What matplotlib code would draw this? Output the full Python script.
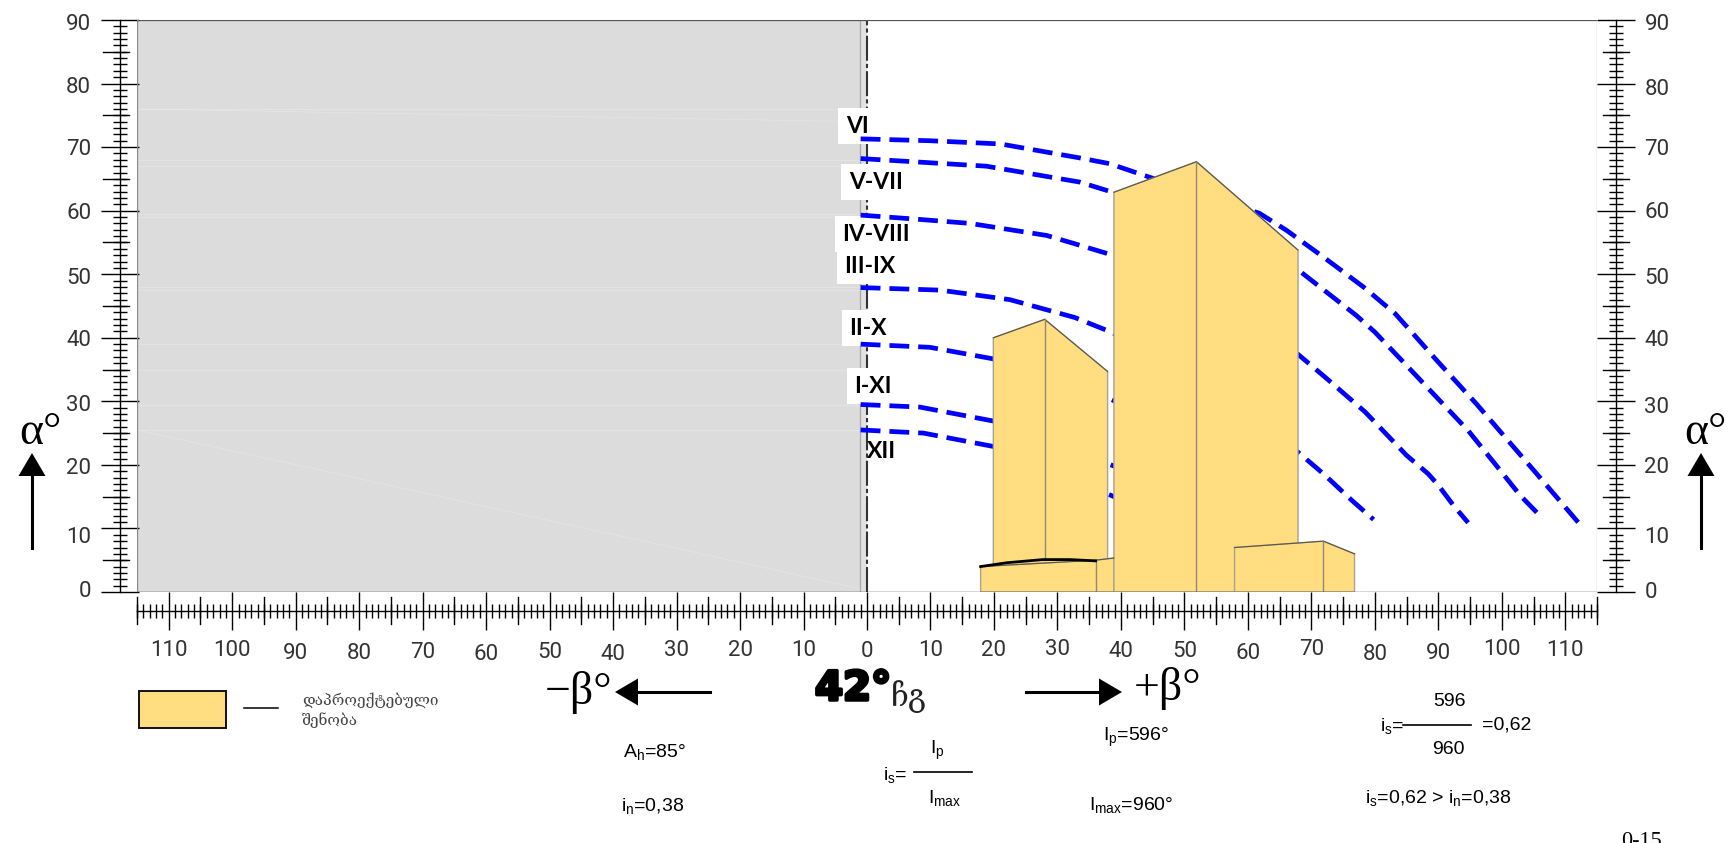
import numpy as np
import matplotlib
matplotlib.use("Agg")
import matplotlib.pyplot as plt
import matplotlib.patheffects as pe
from matplotlib.patches import Polygon, Rectangle
from matplotlib.transforms import ScaledTranslation

W, H = 1732, 843

# sun path curves, beta / alpha
c1_x = [-1, 10, 21, 33.5, 38.2, 45, 61.8, 66.1, 71.9, 78.2, 83.2, 85.8, 89.7, 96, 105.5, 112.6]
c1_y = [71.3, 71, 70.5, 68.3, 67.4, 65.1, 59.6, 56.9, 52.7, 48, 43.8, 40.9, 36.5, 29.6, 18.6, 10.3]
c2_x = [-1, 18.8, 33.5, 38.7, 67.9, 77.1, 80, 84, 89.2, 94.7, 98.9, 102.9, 106.5]
c2_y = [68.2, 67, 64.5, 62.9, 50.7, 43.5, 40.9, 36.7, 31.2, 25.4, 20.2, 15.2, 11.5]
c3_x = [-1, 7.3, 16.2, 28.3, 32.7, 38.7, 67.9, 72.4, 78.5, 85, 88.4, 90, 92.4, 94.7]
c3_y = [59.3, 58.7, 58, 56.1, 54.8, 53, 37.4, 33.6, 28.3, 21.5, 18.6, 16.8, 13.6, 10.9]
c4_x = [-1, 11.5, 22.5, 32.7, 38.7, 67.9, 71.9, 76.4, 79.8]
c4_y = [47.9, 47.5, 46, 43.2, 40.8, 22, 18.6, 14.4, 11.4]
c5_x = [-1, 9.9, 19.8, 38.45, 50]
c5_y = [39, 38.5, 36.7, 30.3, 25]
c6_x = [-1, 8.3, 19.9, 38.45, 50]
c6_y = [29.5, 29.1, 26.9, 20, 15]
c7_x = [-1, 8.9, 19.9, 38.45, 50]
c7_y = [25.5, 25, 22.9, 15.2, 10]
curves = [(c1_x, c1_y), (c2_x, c2_y), (c3_x, c3_y), (c4_x, c4_y),
          (c5_x, c5_y), (c6_x, c6_y), (c7_x, c7_y)]

# buildings
left_tower = [(19.9, 0), (19.9, 40), (28, 42.9), (37.9, 34.7), (37.9, 0)]
big_tower = [(38.9, 0), (38.9, 62.9), (51.9, 67.7), (67.9, 53.8), (67.9, 0)]
low_left = [(17.9, 0), (17.9, 4), (36, 5), (38.9, 5.35), (38.9, 0)]
low_right = [(57.9, 0), (57.9, 7), (71.9, 8), (76.8, 6), (76.8, 0)]
ridges = [(28, 5.1, 42.9), (51.9, 0, 67.7), (36, 0, 5), (71.9, 0, 8)]
roof_x = [17.9, 22, 27.7, 32, 36]
roof_y = [4, 4.6, 5.1, 5.1, 4.9]

# faint lines inside the shaded half
faint_y = [76, 68, 67, 59.5, 59, 48, 47.5, 39, 35, 29.5, 25.5]

month_labels = ["VI", "V-VII", "IV-VIII", "III-IX", "II-X", "I-XI", "XII"]
month_px = [(857, 126), (876, 182), (876, 234), (870, 266), (868, 328), (873, 386), (882, 451)]

x_major = list(range(-110, 111, 10))
x_labels = [str(abs(v)) for v in x_major]
y_major = list(range(0, 91, 10))

# hand lettered numbers sit a little off their ticks
x_label_dy = [0, 0, 3, 3, 2, 4, 2, 4, 0, 0, 0, 1, 0, 0, -1, 1, 1, 3, -1, 4, 3, -1, 0]
yl_label_dy = [-3, 7, 1, 2, 0, 2, 0, 0, 1, 2]
yr_label_dy = [-2, 7, 0, 4, 0, 2, -1, 0, 3, 2]

plt.rcParams["font.family"] = ["Liberation Sans", "DejaVu Sans"]
plt.rcParams["mathtext.default"] = "regular"

fig = plt.figure(figsize=(W / 100, H / 100), dpi=100)
ax = fig.add_axes([137 / W, 1 - 592 / H, (1597 - 137) / W, (592 - 20) / H])
ax.set_xlim(-115, 115)
ax.set_ylim(0, 90)


def fx(x):
    return x / W


def fy(y):
    return 1 - y / H


def ftext(x, y, s, **kw):
    kw.setdefault("ha", "center")
    kw.setdefault("va", "center")
    return fig.text(fx(x), fy(y), s, **kw)


def fline(x0, y0, x1, y1, lw=1.2, color="black"):
    fig.add_artist(plt.Line2D([fx(x0), fx(x1)], [fy(y0), fy(y1)], lw=lw, color=color))


def farrow(x0, y0, x1, y1, head_w, head_l, lw=2.2):
    # arrow given in reference pixels
    dx, dy = x1 - x0, y1 - y0
    n = np.hypot(dx, dy)
    ux, uy = dx / n, dy / n
    fline(x0, y0, x1 - ux * head_l, y1 - uy * head_l, lw=lw)
    bx, by = x1 - ux * head_l, y1 - uy * head_l
    pts = [(x1, y1), (bx - uy * head_w / 2, by + ux * head_w / 2),
           (bx + uy * head_w / 2, by - ux * head_w / 2)]
    fig.add_artist(Polygon([(fx(a), fy(b)) for a, b in pts], closed=True, fc="black", ec="none",
                           transform=fig.transFigure))


# shaded half
ax.axvspan(-115, -1.1, color="#dcdcdc", lw=0, zorder=0)
ax.axvspan(-1.1, 0, color="#e2e2e2", lw=0, zorder=0)
ax.axvline(-1.1, color="#a8a8a8", lw=0.9, zorder=1)
for v in faint_y:
    ax.axhline(v, xmin=0, xmax=0.495, color="white", lw=0.5, alpha=0.3, zorder=1)
ax.plot([-115, -1], [25.5, 0.5], color="white", lw=0.5, alpha=0.25, zorder=1)
ax.plot([-115, -1], [76, 74], color="white", lw=0.5, alpha=0.25, zorder=1)
ax.axvline(0, color="#333333", lw=1.5, ls=(0, (12, 1.5, 2, 1.5)), zorder=2)

# month labels
for s, (px, py) in zip(month_labels, month_px):
    box = None if s == "XII" else dict(fc="white", ec="none", pad=5.5)
    ax.text((px - 867) / 6.348, (591.7 - py) / 6.356, s, fontsize=16.5, fontweight="bold",
            family="Lato", ha="center", va="center", bbox=box, zorder=3)

for cx, cy in curves:
    ax.plot(cx, cy, color="#0000ff", lw=3.4, ls=(0, (4.2, 1.9)), zorder=4)

for poly in [left_tower, low_left, big_tower, low_right]:
    ax.add_patch(Polygon(poly, closed=True, fc="#ffdd80", ec="#a8a38c", lw=1.0, zorder=5))
    rx, ry = zip(*poly[1:-1])
    ax.plot(rx, ry, color="#5a5648", lw=0.8, zorder=6)
for rx, r0, r1 in ridges:
    ax.plot([rx, rx], [r0, r1], color="#8f8a70", lw=1.0, zorder=6)
ax.plot(roof_x, roof_y, color="black", lw=2.0, zorder=7)

# frame and rulers
ax.axhline(90, color="#555555", lw=0.9, zorder=8)
ax.axhline(0, color="#333333", lw=1.0, zorder=8)
ax.axvline(-115, color="#888888", lw=0.9, zorder=8)
ax.axvline(115, color="#aaaaaa", lw=0.9, zorder=8)

ax.spines["top"].set_visible(False)
ax.spines["bottom"].set_position(("outward", 13.7))
ax.spines["left"].set_position(("outward", 12.2))
ax.spines["right"].set_position(("outward", 13.4))
for s in ["bottom", "left", "right"]:
    ax.spines[s].set_linewidth(1.0)

ax.set_xticks(x_major)
ax.set_xticklabels(x_labels)
ax.set_yticks(y_major)
ax.set_xticks(np.arange(-115, 116), minor=True)
ax.set_yticks(np.arange(0, 91), minor=True)
ax.tick_params(which="major", direction="inout", length=27.5, width=1.0, right=True,
               labelright=True, labelsize=16, labelfontfamily="Roboto", labelcolor="#333333", pad=7)
ax.tick_params(which="minor", direction="inout", length=10, width=1.0, right=True)

for tick, dy in zip(ax.xaxis.get_major_ticks(), x_label_dy):
    tick.label1.set_transform(tick.label1.get_transform() + ScaledTranslation(0, -dy / 100, fig.dpi_scale_trans))
for tick, dl, dr in zip(ax.yaxis.get_major_ticks(), yl_label_dy, yr_label_dy):
    tick.label1.set_transform(tick.label1.get_transform() + ScaledTranslation(0, -dl / 100, fig.dpi_scale_trans))
    tick.label2.set_transform(tick.label2.get_transform() + ScaledTranslation(0, -dr / 100, fig.dpi_scale_trans))

# medium ruler ticks at the fives
for v in range(-115, 116, 10):
    ax.plot([v, v], [-0.8, -5.0], color="black", lw=1.0, clip_on=False, zorder=9)
for v in range(5, 90, 10):
    ax.plot([-120.4, -116.2], [v, v], color="black", lw=1.0, clip_on=False, zorder=9)
    ax.plot([115.9, 120.1], [v, v], color="black", lw=1.0, clip_on=False, zorder=9)

# axis arrows and symbols
farrow(32, 548, 32, 453, 27, 23)
farrow(1701, 548, 1701, 453, 27, 23)
ftext(40, 433, "α°", fontsize=33, family="Liberation Serif")
ftext(1705, 433, "α°", fontsize=33, family="Liberation Serif")
farrow(710, 692, 615, 692, 27, 23)
farrow(1026, 692, 1122, 692, 27, 23)
ftext(579, 693, "−β°", fontsize=33, family="Liberation Serif")
ftext(1168, 688, "+β°", fontsize=33, family="Liberation Serif")

t = ftext(853, 689, "42°", fontsize=29, fontweight="bold", family="DejaVu Sans")
t.set_path_effects([pe.withStroke(linewidth=2.5, foreground="black")])
ftext(909, 697, "ჩგ", fontsize=22, family="DejaVu Serif", color="#222222")

# legend
fig.add_artist(Rectangle((fx(139), fy(728)), 87 / W, 37 / H, fc="#ffdd80", ec="#111111", lw=1.4,
                         transform=fig.transFigure))
fline(244, 708, 278, 708, lw=1.1)
ftext(302, 700, "დაპროექტებული", fontsize=11, ha="left", family="DejaVu Serif", color="#444444")
ftext(302, 720, "შენობა", fontsize=11, ha="left", family="DejaVu Serif", color="#444444")

# formulas
fs = 14
ftext(654, 752, "A$_{h}$=85°", fontsize=fs)
ftext(653, 806, "i$_{n}$=0,38", fontsize=fs)
ftext(895, 775, "i$_{s}$=", fontsize=fs)
fline(914, 772, 972, 772)
ftext(937, 750, "I$_{p}$", fontsize=fs)
ftext(945, 798, "I$_{max}$", fontsize=fs)
ftext(1136, 737, "I$_{p}$=596°", fontsize=fs)
ftext(1131, 805, "I$_{max}$=960°", fontsize=fs)
ftext(1392, 726, "i$_{s}$=", fontsize=fs)
fline(1403, 725, 1471, 725)
ftext(1449, 702, "596", fontsize=fs)
ftext(1448, 749, "960", fontsize=fs)
ftext(1507, 725, "=0,62", fontsize=fs)
ftext(1438, 798, "i$_{s}$=0,62 > i$_{n}$=0,38", fontsize=fs)
fig.text(fx(1641), fy(846), "0-15", fontsize=16, family="Liberation Serif", ha="center", va="baseline")

fig.savefig("out.png", dpi=100)
